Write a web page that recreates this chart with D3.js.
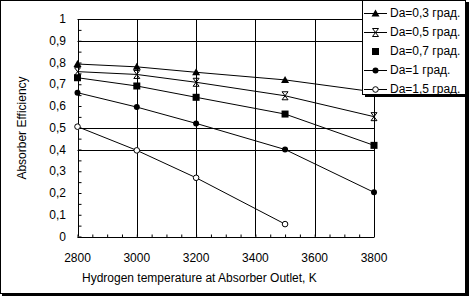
<!DOCTYPE html>
<html><head><meta charset="utf-8">
<script src="https://cdn.jsdelivr.net/npm/d3@7"></script>
<style>body{margin:0;background:#fff}svg{display:block;font-family:"Liberation Sans",Arial,sans-serif}</style>
</head><body>
<script>
const temps = [2800, 3000, 3200, 3500, 3800];
const seriesNames = ["Da=0,3 град.", "Da=0,5 град.", "Da=0,7 град.", "Da=1 град.", "Da=1,5 град."];
const s03 = [0.793, 0.78, 0.755, 0.72, 0.665];
const s05 = [0.758, 0.745, 0.709, 0.647, 0.551];
const s07 = [0.73, 0.692, 0.64, 0.563, 0.419];
const s10 = [0.661, 0.595, 0.52, 0.40, 0.203];
const s15 = [0.505, 0.396, 0.27, 0.057];
const markers = ["triangle", "cross", "square", "dot", "open"];
const xTicks = [2800, 3000, 3200, 3400, 3600, 3800];
const yTicks = [0, 0.1, 0.2, 0.3, 0.4, 0.5, 0.6, 0.7, 0.8, 0.9, 1];
const yTickLabels = ["0", "0,1", "0,2", "0,3", "0,4", "0,5", "0,6", "0,7", "0,8", "0,9", "1"];
const hGrid = [0.9, 0.5, 0.4];
const vGrid = [3000, 3200, 3400, 3600];

const W = 469, H = 296;
const svg = d3.select("body").append("svg").attr("width", W).attr("height", H);
const x = d3.scaleLinear().domain([2800, 3800]).range([77.5, 374]);
const y = d3.scaleLinear().domain([0, 1]).range([236.5, 19]);

// outer frame with shadow
svg.append("rect").attr("x", 0.5).attr("y", 0.5).attr("width", 465).attr("height", 293).attr("fill", "#fff").attr("stroke", "#000");
svg.append("rect").attr("x", 466).attr("y", 2).attr("width", 3).attr("height", 294).attr("fill", "#000");
svg.append("rect").attr("x", 2).attr("y", 294).attr("width", 467).attr("height", 2).attr("fill", "#000");

const g = svg.append("g");
// grid
g.selectAll(".hg").data(hGrid.concat([1])).join("line")
  .attr("x1", x(2800)).attr("x2", x(3800)).attr("y1", d => Math.round(y(d)) + 0.5).attr("y2", d => Math.round(y(d)) + 0.5)
  .attr("stroke", "#000");
g.selectAll(".vg").data(vGrid.concat([3800])).join("line")
  .attr("x1", d => Math.round(x(d)) + 0.5).attr("x2", d => Math.round(x(d)) + 0.5).attr("y1", y(1)).attr("y2", y(0))
  .attr("stroke", "#000");

// axes
const xAxis = d3.axisBottom(x).tickValues(d3.range(2800, 3801, 50)).tickSize(-3).tickFormat("");
const xa = g.append("g").attr("transform", `translate(0,${Math.round(y(0)) + 0.5})`).call(xAxis);
xa.select(".domain").attr("d", `M${x(2800)},0H${x(3800)}`);
const yAxis = d3.axisLeft(y).tickValues(d3.range(0, 1.001, 0.05)).tickSize(-3).tickFormat("");
const ya = g.append("g").attr("transform", `translate(${Math.round(x(2800)) + 0.5},0)`).call(yAxis);
ya.select(".domain").attr("d", `M0,${y(0)}V${y(1)}`);
svg.selectAll(".tick line").attr("stroke", "#000");

// tick labels
g.selectAll(".yl").data(yTicks).join("text")
  .attr("x", 66).attr("y", d => y(d)).attr("dy", "0.35em").attr("text-anchor", "end")
  .attr("font-size", 12).text((d, i) => yTickLabels[i]);
g.selectAll(".xl").data(xTicks).join("text")
  .attr("x", d => x(d)).attr("y", 262).attr("text-anchor", "middle")
  .attr("font-size", 12).text(d => d);

svg.append("text").attr("transform", "translate(26,128) rotate(-90)").attr("text-anchor", "middle")
  .attr("font-size", 12).text("Absorber Efficiency");
svg.append("text").attr("x", 82).attr("y", 282).attr("font-size", 12)
  .text("Hydrogen temperature at Absorber Outlet, K");

function drawMarker(sel, type, cx, cy) {
  if (type === "triangle") sel.append("path").attr("d", `M${cx},${cy - 4}L${cx + 4},${cy + 3}L${cx - 4},${cy + 3}Z`).attr("fill", "#000");
  else if (type === "cross") sel.append("path").attr("d", `M${cx - 3},${cy - 4}H${cx + 3}M${cx - 3},${cy + 4}H${cx + 3}M${cx - 3},${cy - 4}L${cx + 3},${cy + 4}M${cx + 3},${cy - 4}L${cx - 3},${cy + 4}`).attr("stroke", "#000").attr("fill", "none");
  else if (type === "square") sel.append("rect").attr("x", cx - 3.5).attr("y", cy - 3.5).attr("width", 7).attr("height", 7).attr("fill", "#000");
  else if (type === "dot") sel.append("circle").attr("cx", cx).attr("cy", cy).attr("r", 3).attr("fill", "#000");
  else sel.append("circle").attr("cx", cx).attr("cy", cy).attr("r", 2.8).attr("fill", "#fff").attr("stroke", "#000");
}

const allSeries = [s03, s05, s07, s10, s15];
const line = d3.line().x(d => x(d[0])).y(d => y(d[1]));
allSeries.forEach((s, i) => {
  const pts = s.map((v, j) => [temps[j], v]);
  const sg = svg.append("g");
  sg.append("path").attr("d", line(pts)).attr("fill", "none").attr("stroke", "#000").attr("stroke-width", 1);
  pts.forEach(p => drawMarker(sg, markers[i], x(p[0]), y(p[1])));
});

// legend
const lg = svg.append("g");
lg.append("rect").attr("x", 365).attr("y", 2).attr("width", 103).attr("height", 95).attr("fill", "#000");
lg.append("rect").attr("x", 362.5).attr("y", 0.5).attr("width", 103).attr("height", 94).attr("fill", "#fff").attr("stroke", "#000");
seriesNames.forEach((name, i) => {
  const cy = 13 + i * 19;
  if (markers[i] !== "square") lg.append("line").attr("x1", 364).attr("x2", 387).attr("y1", cy + 0.5).attr("y2", cy + 0.5).attr("stroke", "#000");
  drawMarker(lg, markers[i], 375.5, cy + 0.5);
  lg.append("text").attr("x", 390).attr("y", cy).attr("dy", "0.35em").attr("font-size", 12).text(name);
});
</script>
</body></html>
